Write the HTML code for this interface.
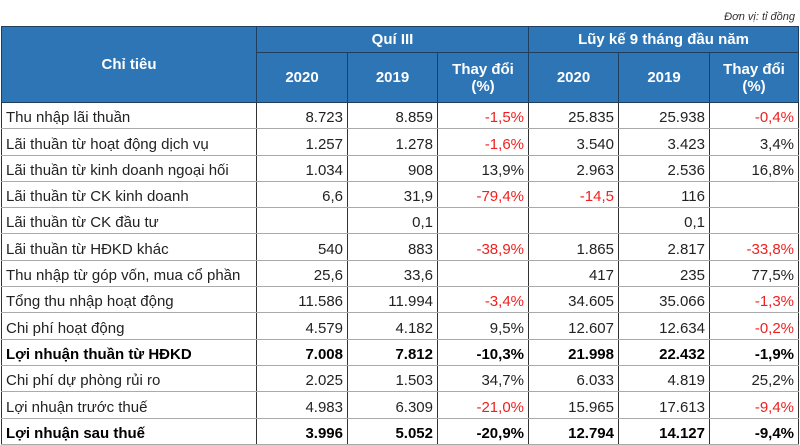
<!DOCTYPE html>
<html><head><meta charset="utf-8">
<style>
html,body{margin:0;padding:0;background:#fff;width:800px;height:445px;overflow:hidden}
body{font-family:"Liberation Sans","DejaVu Sans",sans-serif;position:relative}
.unit{position:absolute;right:5px;top:11px;font-size:11px;font-style:italic;color:#333}
table{position:absolute;left:1px;top:26px;border-collapse:collapse;table-layout:fixed;width:797px}
td,th{padding:0 4px;font-size:15px;white-space:nowrap;overflow:hidden}
th{background:#2e75b6;color:#fff;font-weight:bold;border:1px solid #1f3f60;text-align:center;font-size:15px}
td{border-left:1px solid #333;border-right:1px solid #333;border-top:1px solid #aaa;border-bottom:1px solid #aaa;height:26.3px;vertical-align:bottom;padding-bottom:2px;text-align:right;color:#222;box-sizing:border-box}
td:first-child{text-align:left;padding-left:4px}
.r{color:#f02020}
.b td{font-weight:bold;color:#000}
.dk td{border-top:1px solid #666}
</style></head><body>
<div class="unit">Đơn vị: tỉ đồng</div>
<table>
<colgroup><col style="width:255px"><col style="width:91px"><col style="width:90px"><col style="width:91px"><col style="width:90px"><col style="width:91px"><col style="width:89px"></colgroup>
<tr style="height:26px"><th rowspan="2">Chỉ tiêu</th><th colspan="3">Quí III</th><th colspan="3">Lũy kế 9 tháng đầu năm</th></tr>
<tr style="height:50px"><th>2020</th><th>2019</th><th>Thay đổi<br>(%)</th><th>2020</th><th>2019</th><th>Thay đổi<br>(%)</th></tr>
<tr><td>Thu nhập lãi thuần</td><td>8.723</td><td>8.859</td><td class="r">-1,5%</td><td>25.835</td><td>25.938</td><td class="r">-0,4%</td></tr>
<tr><td>Lãi thuần từ hoạt động dịch vụ</td><td>1.257</td><td>1.278</td><td class="r">-1,6%</td><td>3.540</td><td>3.423</td><td>3,4%</td></tr>
<tr><td>Lãi thuần từ kinh doanh ngoại hối</td><td>1.034</td><td>908</td><td>13,9%</td><td>2.963</td><td>2.536</td><td>16,8%</td></tr>
<tr><td>Lãi thuần từ CK kinh doanh</td><td>6,6</td><td>31,9</td><td class="r">-79,4%</td><td class="r">-14,5</td><td>116</td><td></td></tr>
<tr><td>Lãi thuần từ CK đầu tư</td><td></td><td>0,1</td><td></td><td></td><td>0,1</td><td></td></tr>
<tr><td>Lãi thuần từ HĐKD khác</td><td>540</td><td>883</td><td class="r">-38,9%</td><td>1.865</td><td>2.817</td><td class="r">-33,8%</td></tr>
<tr><td>Thu nhập từ góp vốn, mua cổ phần</td><td>25,6</td><td>33,6</td><td></td><td>417</td><td>235</td><td>77,5%</td></tr>
<tr class="dk"><td>Tổng thu nhập hoạt động</td><td>11.586</td><td>11.994</td><td class="r">-3,4%</td><td>34.605</td><td>35.066</td><td class="r">-1,3%</td></tr>
<tr><td>Chi phí hoạt động</td><td>4.579</td><td>4.182</td><td>9,5%</td><td>12.607</td><td>12.634</td><td class="r">-0,2%</td></tr>
<tr class="b dk"><td>Lợi nhuận thuần từ HĐKD</td><td>7.008</td><td>7.812</td><td class="r">-10,3%</td><td>21.998</td><td>22.432</td><td class="r">-1,9%</td></tr>
<tr><td>Chi phí dự phòng rủi ro</td><td>2.025</td><td>1.503</td><td>34,7%</td><td>6.033</td><td>4.819</td><td>25,2%</td></tr>
<tr><td>Lợi nhuận trước thuế</td><td>4.983</td><td>6.309</td><td class="r">-21,0%</td><td>15.965</td><td>17.613</td><td class="r">-9,4%</td></tr>
<tr class="b dk"><td>Lợi nhuận sau thuế</td><td>3.996</td><td>5.052</td><td class="r">-20,9%</td><td>12.794</td><td>14.127</td><td class="r">-9,4%</td></tr>
</table>
</body></html>
